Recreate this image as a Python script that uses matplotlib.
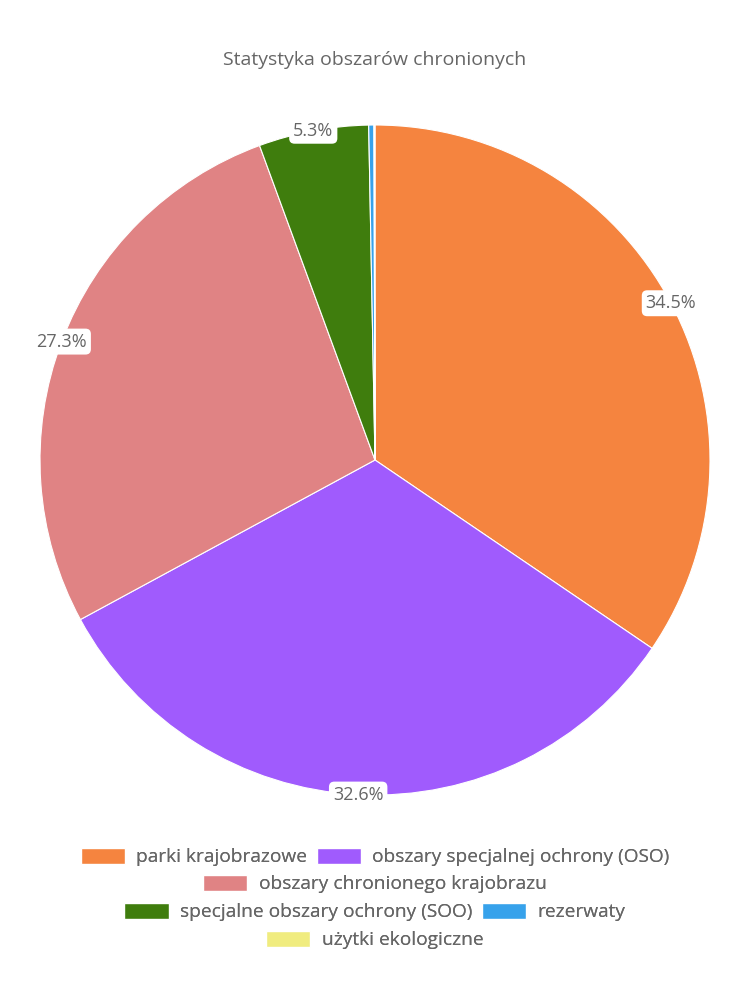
import numpy as np
from matplotlib import pyplot as plt
from matplotlib.patches import Patch

title = "Statystyka obszarów chronionych"
labels = [
    "parki krajobrazowe",
    "obszary specjalnej ochrony (OSO)",
    "obszary chronionego krajobrazu",
    "specjalne obszary ochrony (SOO)",
    "rezerwaty",
    "użytki ekologiczne",
]
values = [34.5, 32.6, 27.3, 5.3, 0.25, 0.05]
colors = ["#F5843F", "#A05BFD", "#E08384", "#3F7D0D", "#37A2EB", "#F0EC7F"]
legend_rows = [[0, 1], [2], [3, 4], [5]]

plt.rcParams["font.family"] = ["Open Sans", "DejaVu Sans"]
text_color = "#666666"

fig = plt.figure(figsize=(7.5, 10), dpi=100)
fig.text(0.5, 0.94, title, ha="center", va="center",
         fontsize=14, color=text_color)

ax = fig.add_axes([40 / 750, 0.205, 670 / 750, 0.67])
wedges, _ = ax.pie(values, colors=colors, startangle=90, counterclock=False,
                   radius=1.0,
                   wedgeprops={"edgecolor": "white", "linewidth": 0.8})
ax.set_xlim(-1, 1)
ax.set_ylim(-1, 1)
ax.set_aspect("equal")
ax.axis("off")

total = sum(values)
for w, v in zip(wedges, values):
    pct = v / total * 100
    if pct < 1:
        continue
    ang = np.deg2rad((w.theta1 + w.theta2) / 2)
    ax.text(np.cos(ang), np.sin(ang), f"{pct:.1f}%", ha="center",
            va="center", fontsize=13, color=text_color,
            bbox=dict(boxstyle="round,pad=0.22,rounding_size=0.3",
                      fc="white", ec="none"))

row_y = [0.143, 0.116, 0.088, 0.060]
for row, y in zip(legend_rows, row_y):
    handles = [Patch(facecolor=colors[i], edgecolor="white", label=labels[i])
               for i in row]
    leg = fig.legend(handles=handles, loc="center", bbox_to_anchor=(0.5, y),
                     ncol=len(row), frameon=False, fontsize=13.8,
                     handlelength=2.3, handleheight=0.95, handletextpad=0.6,
                     columnspacing=0.5, borderpad=0, labelcolor=text_color)
    fig.add_artist(leg)

fig.savefig("out.png", dpi=100)
